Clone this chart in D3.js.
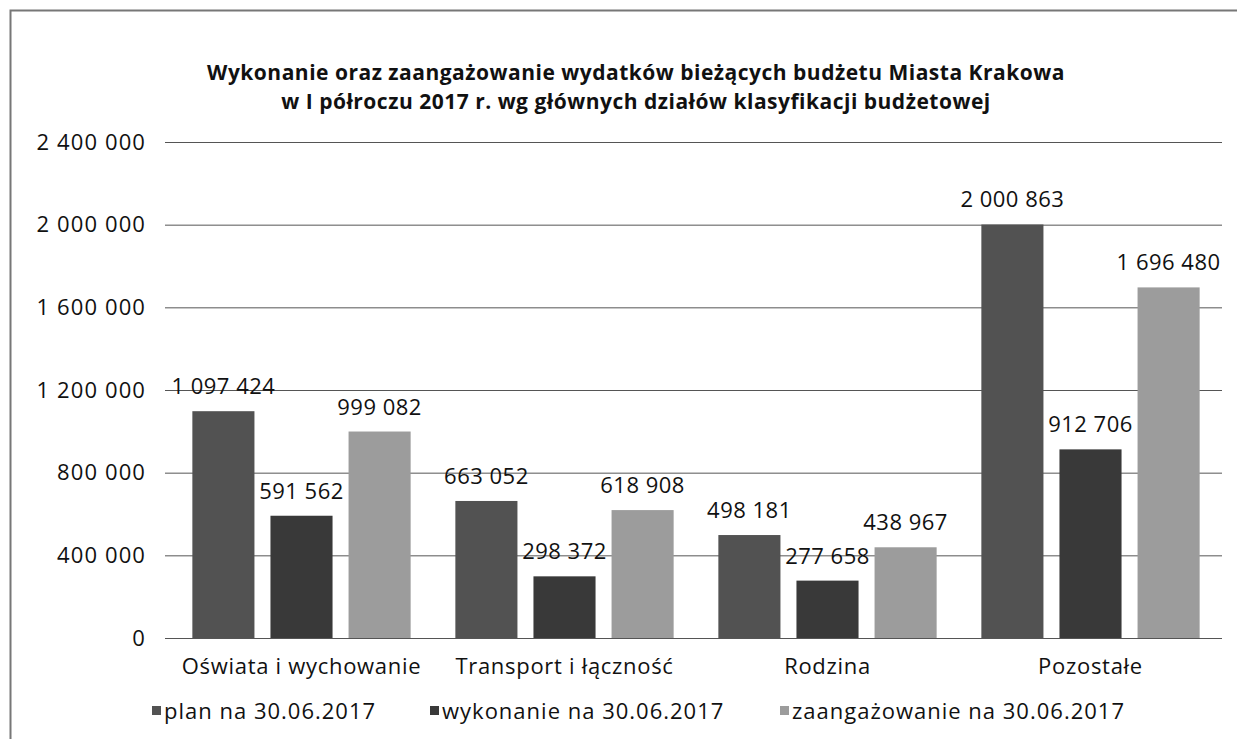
<!DOCTYPE html>
<html>
<head>
<meta charset="utf-8">
<script src="https://cdn.jsdelivr.net/npm/d3@7"></script>
<style>
  body { margin: 0; background: #fff; }
  text { font-family: "Open Sans", sans-serif; fill: #111; }
</style>
</head>
<body>
<div class="chart"></div>
<script>
var categories = ['Oświata i wychowanie', 'Transport i łączność', 'Rodzina', 'Pozostałe'];
var seriesNames = ['plan na 30.06.2017', 'wykonanie na 30.06.2017', 'zaangażowanie na 30.06.2017'];
var plan = [1097424, 663052, 498181, 2000863];
var wykonanie = [591562, 298372, 277658, 912706];
var zaangazowanie = [999082, 618908, 438967, 1696480];
var yTicks = [0, 400000, 800000, 1200000, 1600000, 2000000, 2400000];
var colors = ['#525252', '#393939', '#9c9c9c'];
var titleLines = ['Wykonanie oraz zaangażowanie wydatków bieżących budżetu Miasta Krakowa',
                  'w I półroczu 2017 r. wg głównych działów klasyfikacji budżetowej'];

var width = 1237, height = 739;
var margin = {top: 142, right: 15, bottom: 101, left: 170};
var plotW = width - margin.left - margin.right;
var plotH = height - margin.top - margin.bottom;

var series = [plan, wykonanie, zaangazowanie];
var rows = categories.map(function (c, i) {
  return {cat: c, values: series.map(function (s, j) { return {key: j, value: s[i]}; })};
});

var pl = d3.formatLocale({decimal: ',', thousands: ' ', grouping: [3], currency: ['', ' zł']});
var fmt = pl.format(',d');

var svg = d3.select('div.chart').append('svg')
    .attr('width', width)
    .attr('height', height);

// ramka skanu
svg.append('path')
  .attr('d', 'M10.5,739 V10.5 H1237')
  .attr('fill', 'none')
  .attr('stroke', '#777')
  .attr('stroke-width', 2);

var g = svg.append('g')
    .attr('transform', 'translate(' + margin.left + ',' + margin.top + ')');

var y = d3.scaleLinear().domain([0, 2400000]).range([plotH, 0]);
var x0 = d3.scaleBand().domain(categories).range([0, plotW]).paddingInner(0.17).paddingOuter(0.085);
var x1 = d3.scaleBand().domain([0, 1, 2]).range([0, x0.bandwidth()]).paddingInner(0.205);

var yAxis = d3.axisLeft(y).tickValues(yTicks).tickSize(-plotW).tickPadding(24).tickFormat(fmt);
var yAxis_g = g.append('g').attr('class', 'y axis').call(yAxis);
yAxis_g.select('.domain').remove();
yAxis_g.selectAll('line').attr('stroke', '#555').attr('x1', -5);
yAxis_g.selectAll('text')
  .style('font-size', '22px')
  .style('letter-spacing', '1.1px')
  .attr('fill', '#111');

var groups = g.selectAll('g.grp')
  .data(rows)
  .enter()
  .append('g')
  .attr('class', 'grp')
  .attr('transform', function (d) { return 'translate(' + x0(d.cat) + ',0)'; });

groups.selectAll('rect')
  .data(function (d) { return d.values; })
  .enter()
  .append('rect')
  .attr('x', function (d) { return x1(d.key); })
  .attr('y', function (d) { return y(d.value); })
  .attr('width', x1.bandwidth())
  .attr('height', function (d) { return plotH - y(d.value); })
  .attr('fill', function (d) { return colors[d.key]; });

groups.selectAll('text.lbl')
  .data(function (d) { return d.values; })
  .enter()
  .append('text')
  .attr('class', 'lbl')
  .attr('x', function (d) { return x1(d.key) + x1.bandwidth() / 2; })
  .attr('y', function (d) { return y(d.value) - 17; })
  .attr('text-anchor', 'middle')
  .style('font-size', '22px')
  .style('letter-spacing', '0.5px')
  .text(function (d) { return fmt(d.value); });

var xAxis = d3.axisBottom(x0).tickSize(0).tickPadding(20);
var xAxis_g = g.append('g').attr('transform', 'translate(0,' + plotH + ')').call(xAxis);
xAxis_g.select('.domain').remove();
xAxis_g.selectAll('text')
  .style('font-size', '22px')
  .style('letter-spacing', '0.7px')
  .attr('fill', '#111');

// tytuł
svg.append('g').selectAll('text')
  .data(titleLines)
  .enter()
  .append('text')
  .attr('x', 636)
  .attr('y', function (d, i) { return 80 + i * 29; })
  .attr('text-anchor', 'middle')
  .style('font-size', '21px')
  .style('font-weight', 'bold')
  .style('letter-spacing', '0.5px')
  .text(function (d) { return d; });

// legenda
var legendX = [152, 430, 780];
var legend = svg.append('g').selectAll('g')
  .data(seriesNames)
  .enter()
  .append('g')
  .attr('transform', function (d, i) { return 'translate(' + legendX[i] + ',719)'; });
legend.append('rect')
  .attr('x', 0).attr('y', -13)
  .attr('width', 9).attr('height', 9)
  .attr('fill', function (d, i) { return colors[i]; });
legend.append('text')
  .attr('x', 12)
  .style('font-size', '22px')
  .style('letter-spacing', '1px')
  .text(function (d) { return d; });
</script>
</body>
</html>
